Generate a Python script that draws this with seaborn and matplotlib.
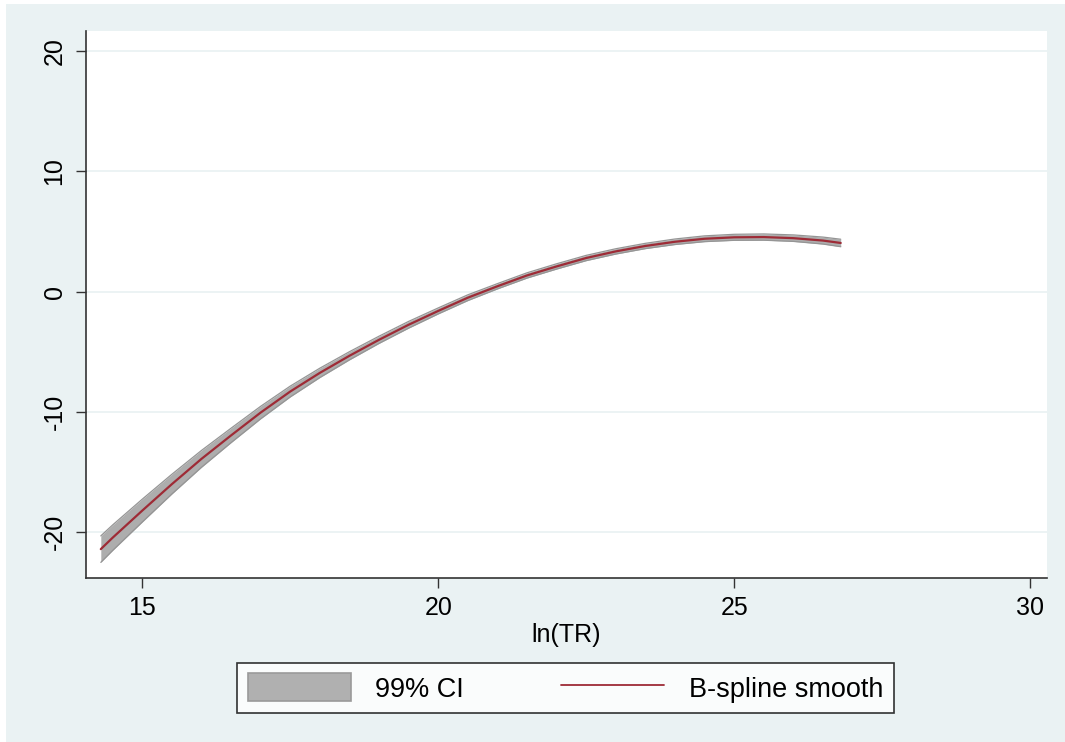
import numpy as np
import pandas as pd
import matplotlib
matplotlib.use("Agg")
import matplotlib.pyplot as plt
from matplotlib.patches import Rectangle, Patch
from matplotlib.lines import Line2D
import seaborn as sns

# values
ln_tr = [14.3, 14.5, 15.0, 15.5, 16.0, 16.5, 17.0, 17.5, 18.0, 18.5, 19.0, 19.5, 20.0,
         20.5, 21.0, 21.5, 22.0, 22.5, 23.0, 23.5, 24.0, 24.5, 25.0, 25.5, 26.0, 26.5, 26.8]
smooth = [-21.4, -20.45, -18.2, -16.0, -13.9, -11.95, -10.05, -8.3, -6.75, -5.33, -4.0, -2.75, -1.6,
          -0.5, 0.45, 1.35, 2.1, 2.8, 3.35, 3.8, 4.15, 4.4, 4.52, 4.54, 4.45, 4.25, 4.05]
ci_half = [1.1, 1.06, 0.95, 0.82, 0.7, 0.6, 0.52, 0.45, 0.39, 0.34, 0.3, 0.28, 0.25,
           0.24, 0.22, 0.22, 0.22, 0.22, 0.22, 0.22, 0.23, 0.24, 0.25, 0.26, 0.27, 0.29, 0.31]

y_ticks = [-20, -10, 0, 10, 20]
x_ticks = [15, 20, 25, 30]

bg = "#EAF2F3"
line_col = "#9E2B36"
band_col = "#ADADAD"
band_edge = "#959595"

sns.set_theme(style="white")
plt.rcParams["font.family"] = ["Liberation Sans", "DejaVu Sans"]
plt.rcParams["text.color"] = "black"
plt.rcParams["axes.labelcolor"] = "black"

df = pd.DataFrame({"ln_tr": ln_tr, "smooth": smooth, "half": ci_half})
df["lo"] = df["smooth"] - df["half"]
df["hi"] = df["smooth"] + df["half"]

fig = plt.figure(figsize=(10.65, 7.42), dpi=100)
fig.patch.set_facecolor("white")
fig.patches.append(Rectangle((6 / 1065, 0), 1, 1 - 4 / 742, transform=fig.transFigure,
                             facecolor=bg, edgecolor="none", zorder=-10))

ax = fig.add_axes([86 / 1065, (742 - 578) / 742, (1046.7 - 86) / 1065, (578 - 31) / 742])
ax.set_facecolor("white")

for yt in y_ticks:
    ax.axhline(yt, color=bg, lw=1.3, zorder=0)

ax.fill_between(df["ln_tr"], df["lo"], df["hi"], color=band_col, lw=0, zorder=2)
ax.plot(df["ln_tr"], df["lo"], color=band_edge, lw=0.9, zorder=2)
ax.plot(df["ln_tr"], df["hi"], color=band_edge, lw=0.9, zorder=2)
sns.lineplot(data=df, x="ln_tr", y="smooth", color=line_col, lw=1.6, ax=ax, zorder=3)

ax.set_xlim(14.05, 30.28)
ax.set_ylim(-23.8, 21.67)
ax.set_xticks(x_ticks)
ax.set_yticks(y_ticks)
ax.set_yticklabels([str(v) for v in y_ticks], rotation=90, va="center")
ax.tick_params(axis="both", which="major", direction="out", length=7, width=1,
               color="#333333", labelsize=18, labelcolor="black", bottom=True, left=True)
ax.tick_params(axis="x", pad=6)
ax.tick_params(axis="y", pad=7)

for side in ["top", "right"]:
    ax.spines[side].set_visible(False)
for side in ["left", "bottom"]:
    ax.spines[side].set_color("#333333")
    ax.spines[side].set_linewidth(1.2)

ax.set_xlabel("ln(TR)", fontsize=18, labelpad=2, color="black")
ax.set_ylabel("")

handles = [Patch(facecolor="#B0B0B0", edgecolor="#9A9A9A", lw=1.2),
           Line2D([0], [0], color=line_col, lw=1.3)]
leg = fig.legend(handles, ["99% CI", "B-spline smooth"], loc="center",
                 bbox_to_anchor=(565.5 / 1065, 1 - 688 / 742), ncol=2, fontsize=19.5,
                 frameon=True, fancybox=False, handlelength=3.8, handleheight=1.2,
                 columnspacing=3.6, handletextpad=0.9, borderpad=0.4)
leg.get_frame().set_edgecolor("black")
leg.get_frame().set_linewidth(1.2)
leg.get_frame().set_facecolor("white")
for t in leg.get_texts():
    t.set_color("black")

fig.savefig("out.png", dpi=100, facecolor=fig.get_facecolor())
plt.close(fig)
